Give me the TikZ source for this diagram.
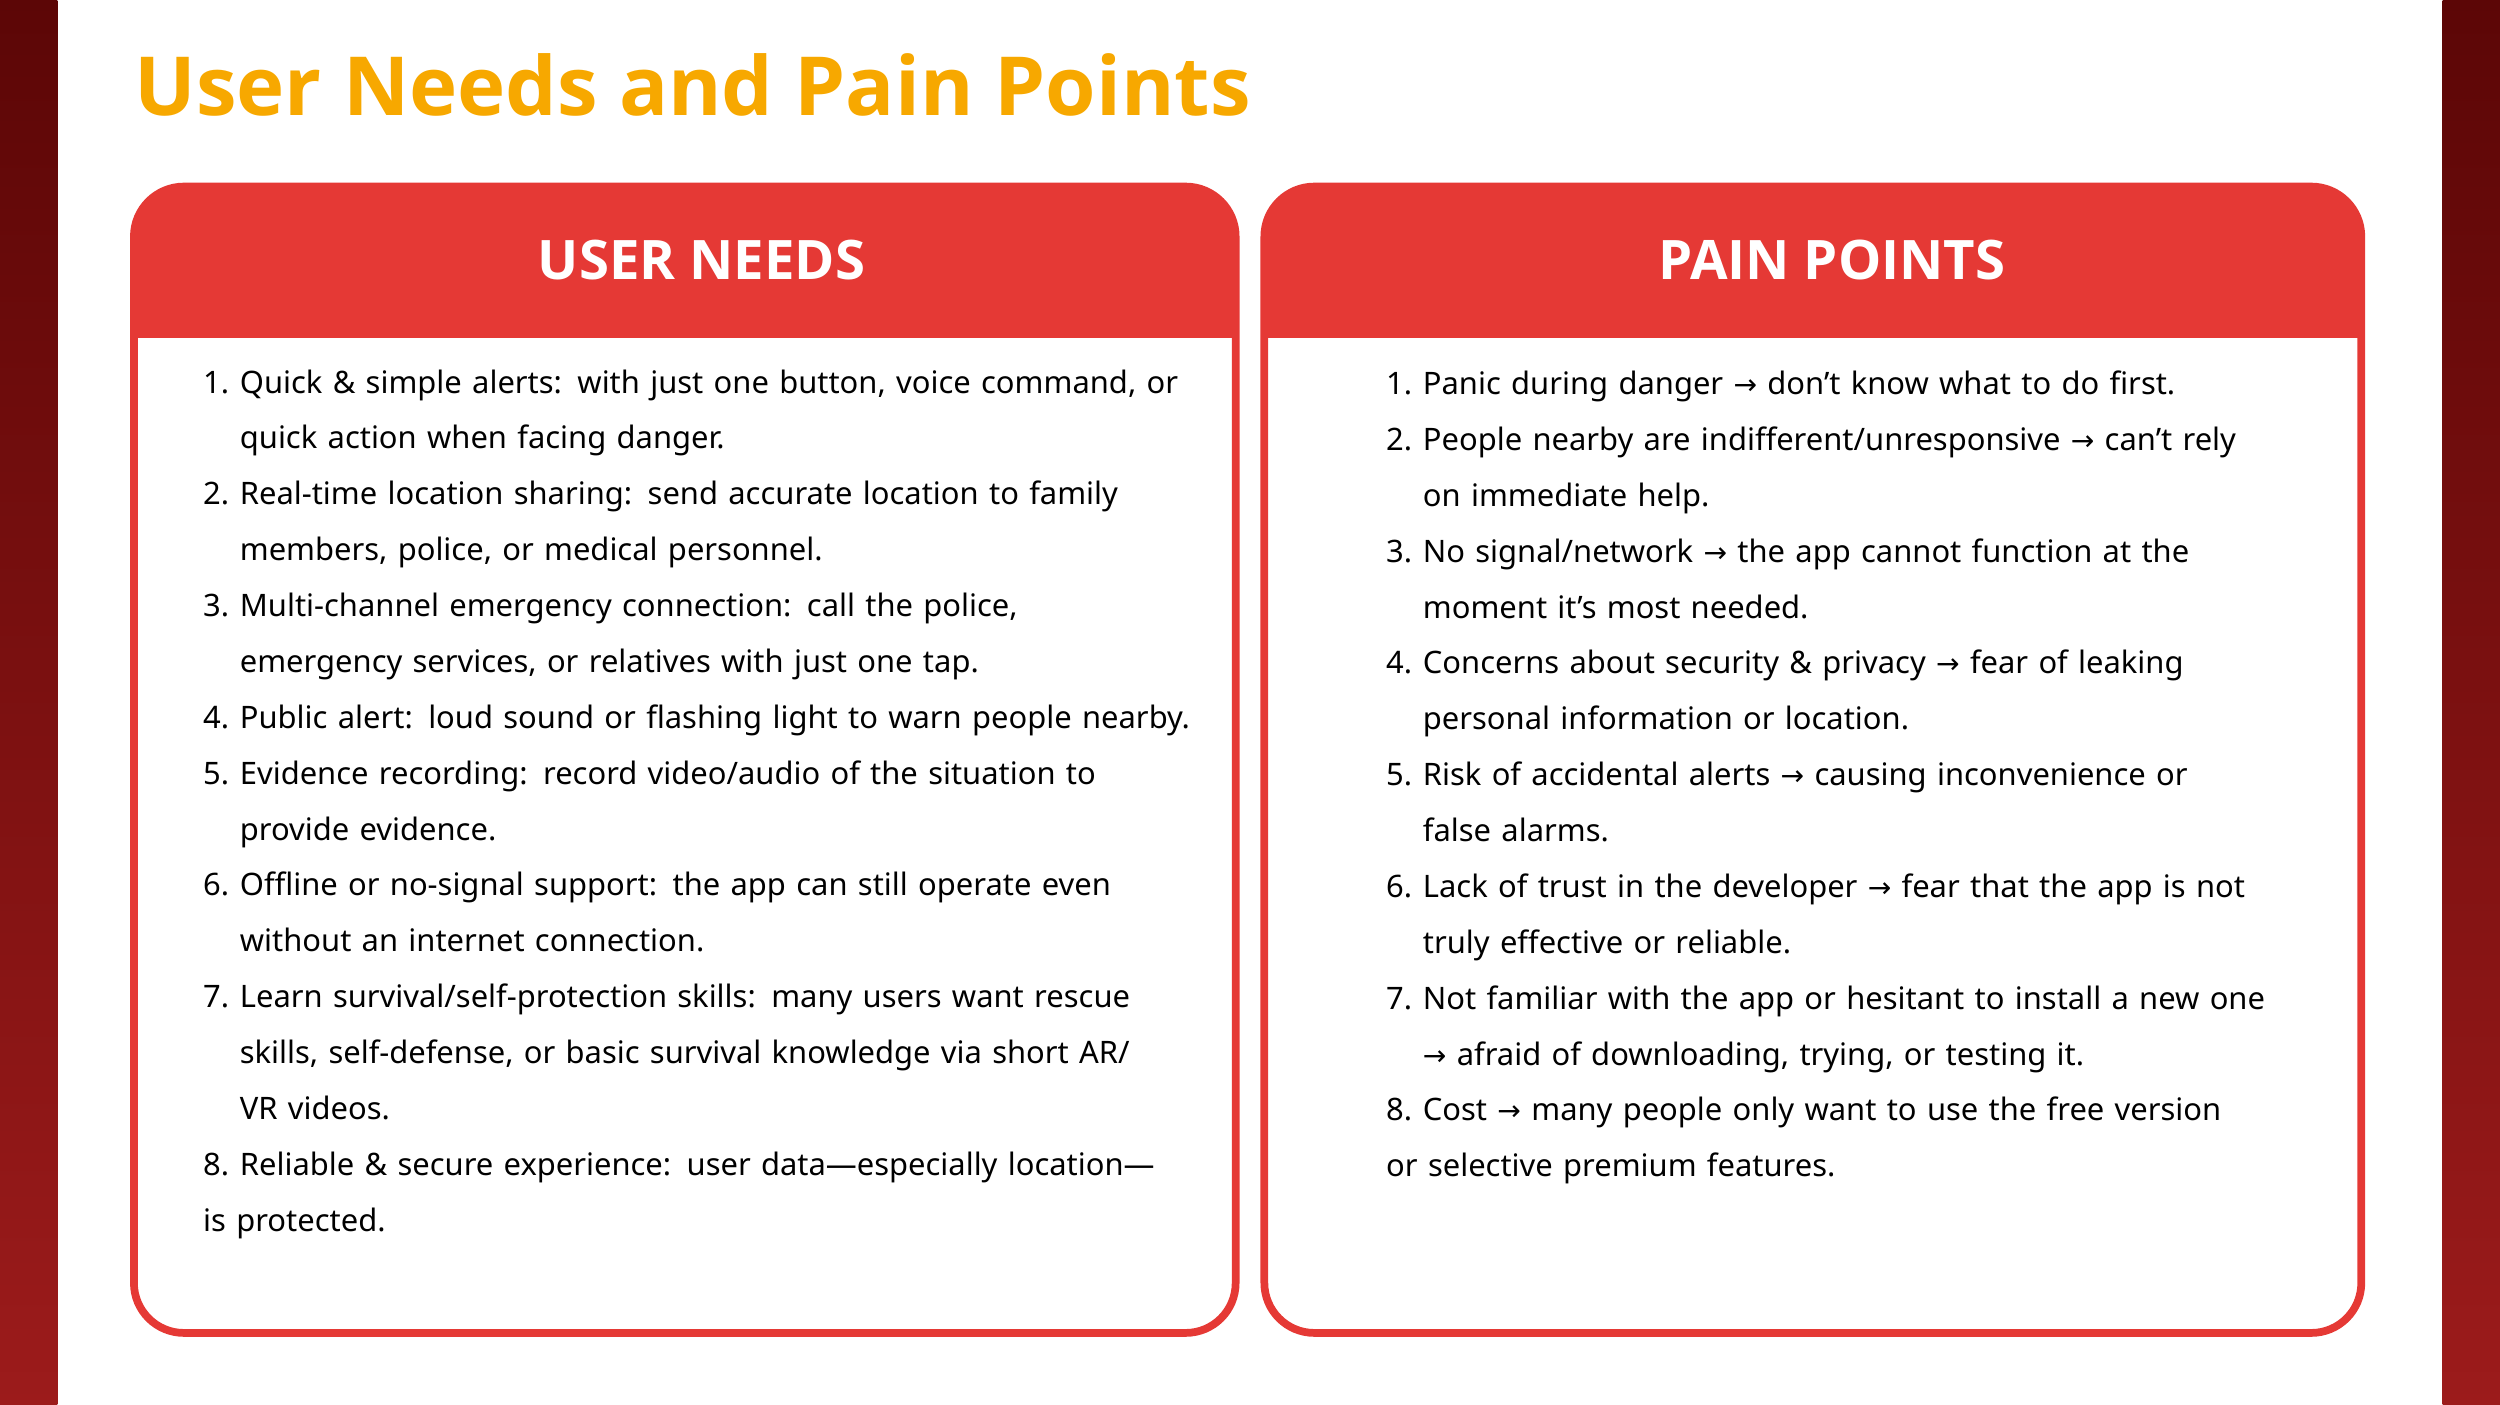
\documentclass[tikz,border=0pt]{standalone}
\usepackage{fontspec}
\setmainfont{Noto Sans}
\newfontfamily\titlefont{Open Sans}
\newfontfamily\arrowfont{DejaVu Sans}
\usetikzlibrary{positioning}
\definecolor{cardred}{HTML}{E53935}
\definecolor{titleorange}{HTML}{F7A800}
\definecolor{bardark}{HTML}{5C0606}
\definecolor{barlight}{HTML}{9C1B1B}
\newcommand{\itm}[2]{\par\noindent\hangindent=0.367cm\hangafter=1\makebox[0.367cm][l]{#1.}#2}
\newcommand{\ra}{{\arrowfont\fontsize{8}{10}\selectfont →}}
\tikzset{
  card/.style={draw=cardred, line width=2.2pt, rounded corners=0.5cm},
  head/.style={text=white, font=\titlefont\bfseries\fontsize{15.5}{18}\selectfont},
  body/.style={anchor=north west, text width=10.6cm, align=left, inner sep=0pt,
    font=\fontsize{8.8}{15.9}\selectfont}
}
\begin{document}
\begin{tikzpicture}[x=0.01594cm, y=-0.01594cm]
    \useasboundingbox (0,0) rectangle (1568,881);
    % side bars
    \shade[top color=bardark, bottom color=barlight] (0,0) rectangle (36,881);
    \shade[top color=bardark, bottom color=barlight] (1532,0) rectangle (1568,881);
    % title
    \node[anchor=west, inner sep=0pt, text=titleorange, font=\titlefont\bfseries\fontsize{23.2}{28}\selectfont] (title) at (84,53) {User Needs and Pain Points};
    % cards
    \begin{scope}
      \clip[rounded corners=0.5cm] (84,117) rectangle (775,836);
      \fill[cardred] (84,117) rectangle (775,212);
    \end{scope}
    \draw[card] (84,117) rectangle (775,836);
    \begin{scope}
      \clip[rounded corners=0.5cm] (793,117) rectangle (1481,836);
      \fill[cardred] (793,117) rectangle (1481,212);
    \end{scope}
    \draw[card] (793,117) rectangle (1481,836);
    \node[head] (needshead) at (440,163) {USER NEEDS};
    \node[head] (painhead) at (1149,163) {PAIN POINTS};
    % lists
    \node[body] (needs) at (127,211) {%
      \itm{1}{Quick \& simple alerts: with just one button, voice command, or\newline quick action when facing danger.}
      \itm{2}{Real-time location sharing: send accurate location to family\newline members, police, or medical personnel.}
      \itm{3}{Multi-channel emergency connection: call the police,\newline emergency services, or relatives with just one tap.}
      \itm{4}{Public alert: loud sound or flashing light to warn people nearby.}
      \itm{5}{Evidence recording: record video/audio of the situation to\newline provide evidence.}
      \itm{6}{Offline or no-signal support: the app can still operate even\newline without an internet connection.}
      \itm{7}{Learn survival/self-protection skills: many users want rescue\newline skills, self-defense, or basic survival knowledge via short AR/\newline VR videos.}
      \itm{8}{Reliable \& secure experience: user data—especially location—\newline is protected.}};
    \node[body] (pains) at (869,212) {%
      \itm{1}{Panic during danger \ra{} don’t know what to do first.}
      \itm{2}{People nearby are indifferent/unresponsive \ra{} can’t rely\newline on immediate help.}
      \itm{3}{No signal/network \ra{} the app cannot function at the\newline moment it’s most needed.}
      \itm{4}{Concerns about security \& privacy \ra{} fear of leaking\newline personal information or location.}
      \itm{5}{Risk of accidental alerts \ra{} causing inconvenience or\newline false alarms.}
      \itm{6}{Lack of trust in the developer \ra{} fear that the app is not\newline truly effective or reliable.}
      \itm{7}{Not familiar with the app or hesitant to install a new one\newline \ra{} afraid of downloading, trying, or testing it.}
      \itm{8}{Cost \ra{} many people only want to use the free version\newline or selective premium features.}};
\end{tikzpicture}
\end{document}
